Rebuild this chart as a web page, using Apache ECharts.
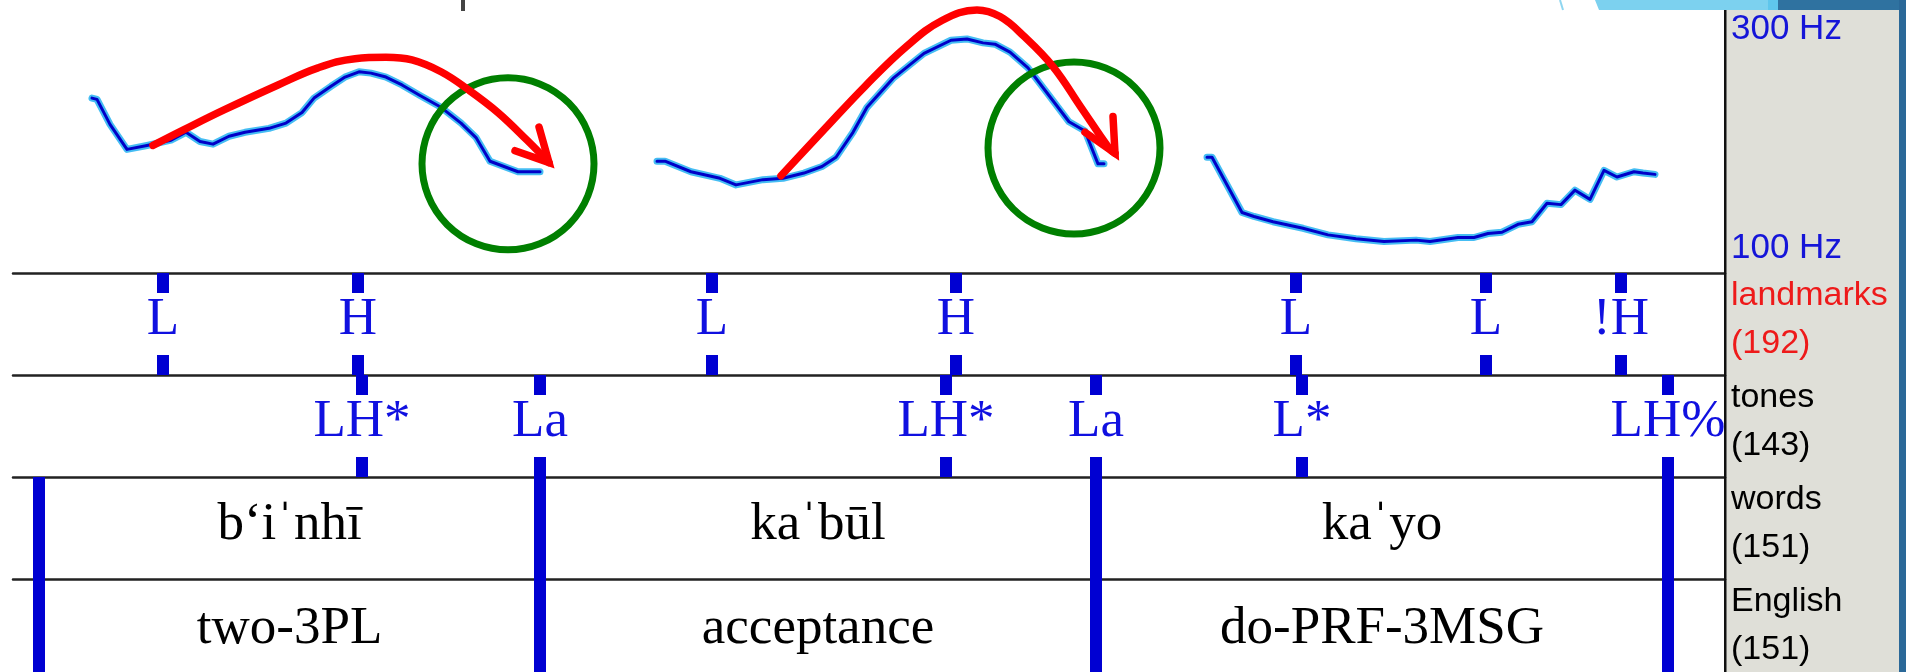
<!DOCTYPE html>
<html><head><meta charset="utf-8">
<script src="https://cdn.jsdelivr.net/npm/echarts@6/dist/echarts.min.js"></script>
<style>html,body{margin:0;padding:0;background:#fff;overflow:hidden}#c{width:1906px;height:672px}</style>
</head><body><div id="c"></div>
<script>
// ---------- data (time in s, F0 in Hz) ----------
const f0Times1 = [0.079,0.084,0.097,0.114,0.134,0.158,0.173,0.187,0.200,0.216,0.232,0.256,0.273,0.289,0.301,0.318,0.332,0.346,0.358,0.373,0.389,0.407,0.428,0.448,0.463,0.477,0.505,0.527];
const f0Hz1    = [233,232,213,194,197,201,207,200,198,204,207,210,214,222,233,242,249,253,252,249,243,235,226,214,203,185,177,177];
const f0Times2 = [0.644,0.652,0.678,0.707,0.723,0.750,0.770,0.791,0.809,0.823,0.840,0.854,0.880,0.911,0.938,0.954,0.970,0.982,0.997,1.015,1.036,1.056,1.072,1.085,1.091];
const f0Hz2    = [185,185,177,172,167,171,172,176,181,188,207,226,248,267,277,278,275,274,268,256,235,215,208,183,183];
const f0Times3 = [1.194,1.199,1.229,1.241,1.260,1.290,1.315,1.343,1.371,1.403,1.417,1.445,1.461,1.475,1.489,1.505,1.519,1.534,1.548,1.562,1.577,1.591,1.604,1.621,1.630,1.642];
const f0Hz3    = [188,188,146,143,139,134,129,126,124,125,124,127,127,130,131,137,139,153,152,163,156,178,173,177,176,175];

// annotation arrows and circles
const arrow1Times = [0.140,0.171,0.211,0.265,0.305,0.342,0.373,0.399,0.428,0.456,0.485,0.514,0.536];
const arrow1Hz    = [197,209,224,243,256,263,264,262,253,239,222,201,184];
const arrow1HeadTimes = [0.526,0.536,0.502];
const arrow1HeadHz    = [211,184,193];
const arrow2Times = [0.768,0.811,0.852,0.893,0.929,0.964,0.987,1.011,1.040,1.068,1.097,1.102];
const arrow2Hz    = [174,209,242,272,292,300,295,280,257,226,194,191];
const arrow2HeadTimes = [1.100,1.102,1.072];
const arrow2HeadHz    = [219,191,207];
const circleTimes = [0.495,1.061];
const circleHz    = [183,195];

// tiers
const landmarkTimes  = [0.150,0.345,0.699,0.943,1.283,1.473,1.608];
const landmarkLabels = ['L','H','L','H','L','L','!H'];
const toneTimes  = [0.349,0.527,0.933,1.083,1.289,1.655];
const toneLabels = ['LH*','La','LH*','La','L*','LH%'];
const wordBoundaries = [0.026,0.527,1.083,1.655];
const wordLabels    = ['b\u2018i\u02C8nh\u012B','ka\u02C8b\u016Bl','ka\u02C8yo'];
const englishLabels = ['two-3PL','acceptance','do-PRF-3MSG'];
const tierNames  = ['landmarks','tones','words','English'];
const tierCounts = ['(192)','(143)','(151)','(151)'];
const hzTickValues = [100,300];
const hzTickLabels = ['100 Hz','300 Hz'];

// ---------- layout ----------
const X_MIN = 0, X_MAX = 1.712;
const PLOT_L = 13, PLOT_R = 1725, RIGHT = 1906 - PLOT_R;
const tierTops = [273,375,477,579], TIER_H = 102;
const BLUE = '#0000d2', TXT_BLUE = '#1010e0';
const SERIF = '"Liberation Serif","Noto Sans","Times New Roman",serif';
const SANS = '"Liberation Sans",Arial,sans-serif';

const zip = (a,b) => a.map((v,i)=>[v,b[i]]);

const grids = [{left:PLOT_L,right:RIGHT,top:10,height:263}]
  .concat(tierTops.map(t=>({left:PLOT_L,right:RIGHT,top:t,height:TIER_H})));

const xAxes = grids.map((g,i)=>({
  gridIndex:i, type:'value', min:X_MIN, max:X_MAX, position:'top', show:i>0,
  axisLine:{show:true,onZero:false,lineStyle:{color:'#222',width:2.5}},
  axisTick:{show:false}, axisLabel:{show:false}, splitLine:{show:false}
}));
const yAxes = [{
  gridIndex:0, type:'value', min:100, max:300, interval:100, position:'right',
  axisLine:{show:false}, axisTick:{show:false}, splitLine:{show:false},
  axisLabel:{show:true, margin:6, align:'left',
    formatter:v=>{const k=hzTickValues.indexOf(v); if(k<0) return ''; return (v===300?'{hi|':'{lo|')+hzTickLabels[k]+'}';},
    rich:{
      hi:{fontFamily:SANS,fontSize:35,color:'#1515d8',padding:[38,0,0,0]},
      lo:{fontFamily:SANS,fontSize:35,color:'#1515d8',padding:[0,0,50,0]}
    }}
}].concat(tierTops.map((t,i)=>({gridIndex:i+1,type:'value',min:0,max:1,show:false})));

function pointTier(labels){
  return function(params, api){
    const x = api.coord([api.value(0), 0.5])[0];
    const cs = params.coordSys, w = 12, tl = 20;
    return {type:'group', children:[
      {type:'rect', shape:{x:x-w/2,y:cs.y,width:w,height:tl}, style:{fill:BLUE}},
      {type:'rect', shape:{x:x-w/2,y:cs.y+cs.height-tl,width:w,height:tl}, style:{fill:BLUE}},
      {type:'text', style:{text:labels[params.dataIndex], x:x, y:cs.y+47, align:'center', verticalAlign:'middle',
        font:'53px '+SERIF, fill:TXT_BLUE}}
    ]};
  };
}
function boundaryItem(params, api){
  const x = api.coord([api.value(0), 0.5])[0];
  const cs = params.coordSys, w = 12;
  return {type:'rect', shape:{x:x-w/2,y:cs.y,width:w,height:cs.height}, style:{fill:BLUE}};
}
function intervalLabels(labels, dy){
  return function(params, api){
    const s = api.coord([api.value(0), 0.5])[0];
    const e = api.coord([api.value(1), 0.5])[0];
    const cs = params.coordSys;
    return {type:'text', style:{text:labels[params.dataIndex], x:(s+e)/2, y:cs.y+dy, align:'center', verticalAlign:'middle',
      font:'53px '+SERIF, fill:'#000'}};
  };
}
const intervals = wordBoundaries.slice(0,-1).map((b,i)=>[b, wordBoundaries[i+1]]);

const series = [];
[[f0Times1,f0Hz1],[f0Times2,f0Hz2],[f0Times3,f0Hz3]].forEach(([t,h])=>{
  const d = zip(t,h);
  series.push({type:'line', xAxisIndex:0, yAxisIndex:0, data:d, symbol:'none', silent:true, z:2,
    lineStyle:{color:'#45bdf3', width:7, cap:'round', join:'round'}});
  series.push({type:'line', xAxisIndex:0, yAxisIndex:0, data:d, symbol:'none', silent:true, z:3,
    lineStyle:{color:'#0000c8', width:3, cap:'round', join:'round'}});
});
series.push({type:'scatter', xAxisIndex:0, yAxisIndex:0, data:zip(circleTimes,circleHz), symbol:'circle', symbolSize:172, z:4, silent:true,
  itemStyle:{color:'rgba(0,0,0,0)', borderColor:'#007f00', borderWidth:7, opacity:1}});
[[arrow1Times,arrow1Hz,arrow1HeadTimes,arrow1HeadHz],[arrow2Times,arrow2Hz,arrow2HeadTimes,arrow2HeadHz]].forEach(([t,h,ht,hh])=>{
  series.push({type:'line', xAxisIndex:0, yAxisIndex:0, data:zip(t,h), symbol:'none', smooth:0.4, clip:false, z:5, silent:true,
    lineStyle:{color:'#ff0000', width:7.5, cap:'round', join:'round'}});
  series.push({type:'line', xAxisIndex:0, yAxisIndex:0, data:zip(ht,hh), symbol:'none', clip:false, z:5, silent:true,
    lineStyle:{color:'#ff0000', width:7.5, cap:'round', join:'miter'}});
});
series.push({type:'custom', xAxisIndex:1, yAxisIndex:1, data:landmarkTimes.map(t=>[t,0.5]), encode:{x:0,y:1}, renderItem:pointTier(landmarkLabels), silent:true});
series.push({type:'custom', xAxisIndex:2, yAxisIndex:2, data:toneTimes.map(t=>[t,0.5]), encode:{x:0,y:1}, renderItem:pointTier(toneLabels), silent:true});
[3,4].forEach(gi=>{
  series.push({type:'custom', xAxisIndex:gi, yAxisIndex:gi, data:wordBoundaries.map(t=>[t,0.5]), encode:{x:0,y:1}, renderItem:boundaryItem, silent:true});
  series.push({type:'custom', xAxisIndex:gi, yAxisIndex:gi, data:intervals, encode:{x:[0,1]}, renderItem:intervalLabels(gi===3?wordLabels:englishLabels, gi===3?48:50), silent:true});
});

// right panel and side labels
const graphics = [
  {type:'rect', shape:{x:1726,y:10,width:173,height:662}, style:{fill:'#dfdfd8'}, z:-10},
  {type:'rect', shape:{x:1899,y:0,width:7,height:672}, style:{fill:'#2a6898'}, z:-10},
  {type:'polygon', shape:{points:[[1595,0],[1778,0],[1778,10],[1599,10]]}, style:{fill:'#7cd1ef'}, z:-10},
  {type:'rect', shape:{x:1768,y:0,width:10,height:10}, style:{fill:'#5fc6ec'}, z:-10},
  {type:'rect', shape:{x:1778,y:0,width:121,height:10}, style:{fill:'#2f72a0'}, z:-10},
  {type:'line', shape:{x1:1560,y1:0,x2:1563,y2:10}, style:{stroke:'#8fd6f0',lineWidth:2}, z:-10},
  {type:'rect', shape:{x:1724,y:10,width:2.5,height:662}, style:{fill:'#111'}, z:10},
  {type:'rect', shape:{x:461,y:0,width:4,height:11}, style:{fill:'#444'}, z:10}
];
tierTops.forEach((t,i)=>{
  graphics.push({type:'text', z:20, style:{text:tierNames[i]+'\n'+tierCounts[i], x:1731, y:t-1, align:'left', verticalAlign:'top',
    font:'34px '+SANS, lineHeight:48, fill:i===0?'#ee1a1a':'#000'}});
});

const chart = echarts.init(document.getElementById('c'), null, {renderer:'canvas'});
chart.setOption({
  animation:false, backgroundColor:'#fff',
  grid:grids, xAxis:xAxes, yAxis:yAxes, series:series, graphic:graphics
});
</script></body></html>
